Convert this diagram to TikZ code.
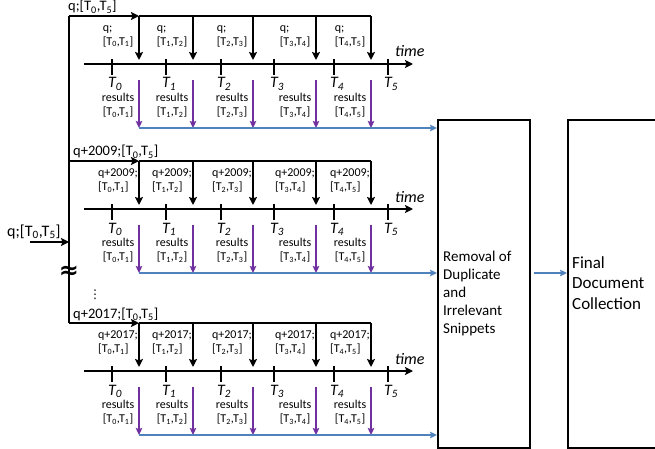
\documentclass[tikz,border=0pt]{standalone}
\usepackage{fontspec}
\setmainfont{Carlito}
\newfontfamily\symbolfont{DejaVu Sans}
\usetikzlibrary{arrows.meta,positioning}
\definecolor{ResPurple}{HTML}{7030A0}
\definecolor{FlowBlue}{HTML}{4F81BD}
\newcommand{\tsub}[1]{\textsubscript{#1}}

\begin{document}
\begin{tikzpicture}[x=1pt, y=-1pt,
  qline/.style={line width=1.8pt},
  qarrow/.style={-{Stealth[length=8pt,width=8pt,inset=1.5pt]}, line width=2pt},
  resarrow/.style={-{Stealth[length=7pt,width=6.5pt,inset=1.2pt]}, line width=1.7pt, draw=ResPurple},
  flow/.style={-{Stealth[length=7pt,width=6.5pt,inset=1.2pt]}, line width=1.7pt, draw=FlowBlue},
  qlabel/.style={anchor=north, inner sep=0pt, align=left, font=\fontsize{12}{14}\selectfont},
  reslabel/.style={anchor=north, inner sep=0pt, align=center, font=\fontsize{12}{13.5}\selectfont},
  tlabel/.style={anchor=base, inner sep=0pt, font=\fontsize{16}{16}\selectfont\itshape},
  qhead/.style={anchor=base west, inner sep=0pt, font=\fontsize{14.5}{14.5}\selectfont},
  stagebox/.style={draw, line width=1.6pt, anchor=north west, minimum height=328pt, inner sep=0pt}
]
  \clip (0,0) rectangle (655,449);

  % processing stages
  \node[stagebox, minimum width=92pt] (removal) at (437,119) {};
  \node[stagebox, minimum width=100pt] (final) at (567,119) {};
  \node[anchor=north west, inner sep=0pt, align=left, font=\fontsize{15}{18}\selectfont] (removaltxt) at (443,248.4)
    {\strut Removal of\\\strut Duplicate\\\strut and\\\strut Irrelevant\\\strut Snippets};
  \node[anchor=north west, inner sep=0pt, align=left, font=\fontsize{17}{20.5}\selectfont] (finaltxt) at (572,253.7)
    {\strut Final\\\strut Document\\\strut Collection};

  % one block per query variant
  \foreach \b/\q/\qx [count=\s] in {0/q/68, 145/q+2009/73, 307/q+2017/73} {
    \node[qhead] (qall\s) at (\qx,11+\b) {\q;[T\tsub{0},T\tsub{5}]};
    \coordinate (br\s) at (69,16+\b);
    \foreach \x [count=\i from 0] in {139,193,253,316,371} {
      \pgfmathtruncatemacro{\j}{\i+1}
      \coordinate (top\s-\i) at (\x,16+\b);
      \coordinate (hit\s-\i) at (\x,60+\b);
      \coordinate (rs\s-\i) at (\x,80+\b);
      \coordinate (re\s-\i) at (\x,128+\b);
      \draw[qarrow] (top\s-\i) -- (hit\s-\i);
      \draw[resarrow] (rs\s-\i) -- (re\s-\i);
      \node[qlabel] (ql\s-\i) at (\x-21,21.2+\b) {\strut\q;\\\strut[T\tsub{\i},T\tsub{\j}]};
      \node[reslabel] (rl\s-\i) at (\x-21,92.2+\b) {\strut results\\\strut[T\tsub{\i},T\tsub{\j}]};
    }
    \draw[qarrow] (br\s) -- (top\s-0);
    \draw[qline] (top\s-0) -- (top\s-4);
    % time axis
    \coordinate (ts\s) at (84,64+\b);
    \coordinate (te\s) at (413,64+\b);
    \draw[qarrow] (ts\s) -- (te\s);
    \node[tlabel, anchor=base west] (time\s) at (395,57+\b) {time};
    \foreach \t [count=\k from 0] in {112,166,221,274,334,388} {
      \draw[line width=1.2pt] (\t,59+\b) -- (\t,75+\b);
      \node[tlabel] (T\s-\k) at (\t+3,88+\b) {T\tsub{\k}};
    }
    \coordinate (bs\s) at (139,128+\b);
    \draw[flow] (bs\s) -- (bs\s -| removal.west);
  }

  \draw[line width=1.6pt] (br1) -- (br3);

  % incoming query
  \node[anchor=base west, inner sep=0pt, font=\fontsize{16}{16}\selectfont] (qin) at (7,236) {q;[T\tsub{0},T\tsub{5}]};
  \coordinate (instart) at (30,242);
  \coordinate (inend) at (69,242);
  \draw[qarrow] (instart) -- (inend);
  \node[inner sep=0pt, font=\symbolfont\bfseries\fontsize{24}{24}\selectfont] (gap) at (69,272) {≈};
  \node[inner sep=0pt, font=\symbolfont\fontsize{12}{12}\selectfont] (more) at (95,295) {⋮};

  \draw[flow] ([xshift=3pt]removal.east |- bs2) -- (final.west |- bs2);
\end{tikzpicture}
\end{document}
